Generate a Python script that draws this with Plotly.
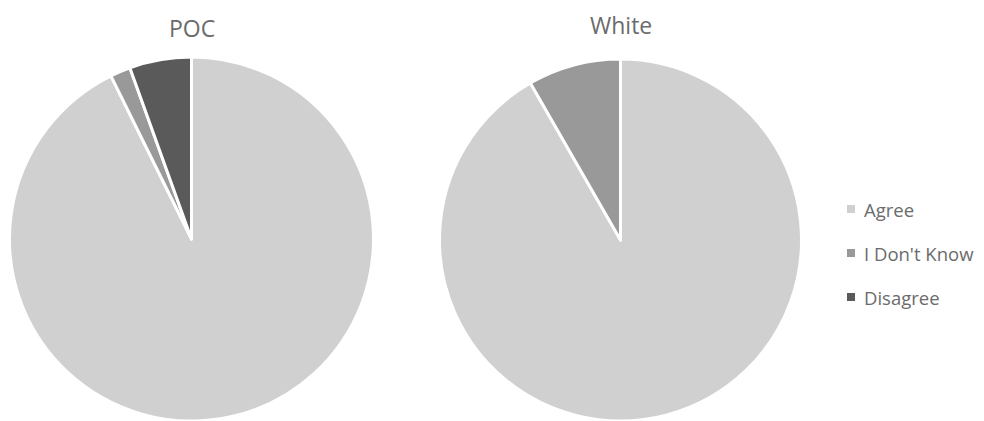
import plotly.graph_objects as go

labels = ["Agree", "I Don't Know", "Disagree"]
poc_values = [92.7, 1.8, 5.5]
white_values = [91.7, 8.3, 0.0]
colors = ["#cfd0cf", "#999999", "#5a5a5a"]
titles = ["POC", "White"]

W, H = 984, 421
fig = go.Figure()

def dom(cx, D):
    return dict(x=[(cx - D / 2) / W, (cx + D / 2) / W], y=[0, D / H])

for vals, cx, D in [(poc_values, 191.5, 364), (white_values, 620.5, 362)]:
    fig.add_trace(go.Pie(labels=labels, values=vals, sort=False, direction="clockwise",
                         rotation=0, marker=dict(colors=colors, line=dict(color="white", width=3)),
                         textinfo="none", hoverinfo="label+percent", showlegend=False,
                         domain=dom(cx, D)))

txt = "#6b6b6b"
font = "Open Sans"
annotations = [
    dict(x=191.5 / W, y=1 - 28 / H, text=titles[0]),
    dict(x=620.5 / W, y=1 - 25 / H, text=titles[1]),
]
annotations = [dict(a, xref="paper", yref="paper", showarrow=False, xanchor="center", yanchor="middle",
                    font=dict(family=font, size=23, color=txt)) for a in annotations]

shapes = []
leg_y = [209, 253, 297]
for lab, col, y in zip(labels, colors, leg_y):
    shapes.append(dict(type="rect", xref="paper", yref="paper",
                       x0=847 / W, x1=855 / W, y0=1 - (y + 4) / H, y1=1 - (y - 4) / H,
                       fillcolor=col, line=dict(width=0)))
    annotations.append(dict(x=862 / W, y=1 - y / H, xref="paper", yref="paper", text=lab,
                            showarrow=False, xanchor="left", yanchor="middle",
                            font=dict(family=font, size=18.5, color=txt)))

fig.update_layout(width=W, height=H, margin=dict(l=0, r=0, t=0, b=0),
                  paper_bgcolor="white", plot_bgcolor="white",
                  annotations=annotations, shapes=shapes, showlegend=False)
fig.write_html("out.html")
